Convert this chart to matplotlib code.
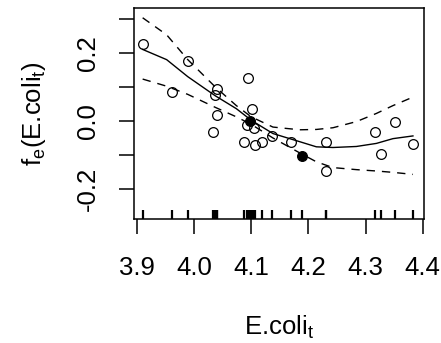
import matplotlib.pyplot as plt

plt.rcParams['font.family'] = ['Liberation Sans', 'DejaVu Sans']
plt.rcParams['mathtext.fontset'] = 'custom'
plt.rcParams['mathtext.rm'] = 'Liberation Sans'

# partial residuals
x_obs = [3.910, 3.962, 3.989, 4.033, 4.037, 4.041, 4.041, 4.088, 4.092, 4.094,
         4.097, 4.102, 4.104, 4.106, 4.119, 4.137, 4.170, 4.188, 4.231, 4.231,
         4.317, 4.327, 4.352, 4.383]
y_obs = [0.227, 0.086, 0.176, -0.032, 0.076, 0.094, 0.016, -0.061, -0.013, 0.126,
         0.000, 0.036, -0.022, -0.071, -0.061, -0.044, -0.061, -0.102, -0.061, -0.146,
         -0.032, -0.097, -0.003, -0.068]
filled = [False] * 24
filled[10] = True
filled[17] = True

# smooth and +/- 2 se bands
curve_x = [3.910, 3.952, 3.989, 4.037, 4.074, 4.100, 4.138, 4.185, 4.214, 4.243,
           4.284, 4.319, 4.348, 4.383]
fit = [0.210, 0.180, 0.130, 0.074, 0.036, 0.002, -0.037, -0.061, -0.076, -0.078,
       -0.075, -0.066, -0.052, -0.044]
upper = [0.303, 0.253, 0.180, 0.100, 0.045, 0.012, -0.018, -0.026, -0.025, -0.020,
         -0.002, 0.022, 0.045, 0.070]
lower = [0.123, 0.102, 0.078, 0.040, 0.012, -0.010, -0.050, -0.094, -0.120, -0.137,
         -0.143, -0.147, -0.151, -0.157]

fig = plt.figure(figsize=(4.41, 3.43), dpi=100)
ax = fig.add_axes([0.304, 0.3615, 0.657, 0.6155])

ax.plot(curve_x, fit, color='black', lw=1.0)
ax.plot(curve_x, upper, color='black', lw=1.0, linestyle=(0, (6, 5)))
ax.plot(curve_x, lower, color='black', lw=1.0, linestyle=(0, (6, 5)))

for xi, yi, f in zip(x_obs, y_obs, filled):
    ax.plot(xi, yi, 'o', ms=7, mec='black', mew=0.9,
            mfc='black' if f else 'none')

# rug
for xi in x_obs:
    ax.plot([xi, xi], [0, 0.045], color='black', lw=1.6,
            transform=ax.get_xaxis_transform(), solid_capstyle='butt')

ax.set_xlim(3.895, 4.402)
ax.set_ylim(-0.288, 0.332)
ax.set_xticks([3.9, 4.0, 4.1, 4.2, 4.3, 4.4])
ax.set_xticklabels(['3.9', '4.0', '4.1', '4.2', '4.3', '4.4'])
ax.set_yticks([-0.2, -0.1, 0.0, 0.1, 0.2, 0.3])
ax.set_yticklabels(['-0.2', '', '0.0', '', '0.2', ''], rotation=90, va='center')

ax.tick_params(axis='both', length=10.5, width=1.1, labelsize=18.5, direction='out')
ax.tick_params(axis='x', pad=16)
ax.tick_params(axis='y', pad=14)
for s in ax.spines.values():
    s.set_linewidth(1.1)

ax.set_xlabel(r'E.coli$_\mathregular{t}$', fontsize=18.5, labelpad=24)
ax.set_ylabel(r'f$_\mathregular{e}$(E.coli$_\mathregular{t}$)', fontsize=18.5, labelpad=20)

fig.savefig('out.png', dpi=100)
